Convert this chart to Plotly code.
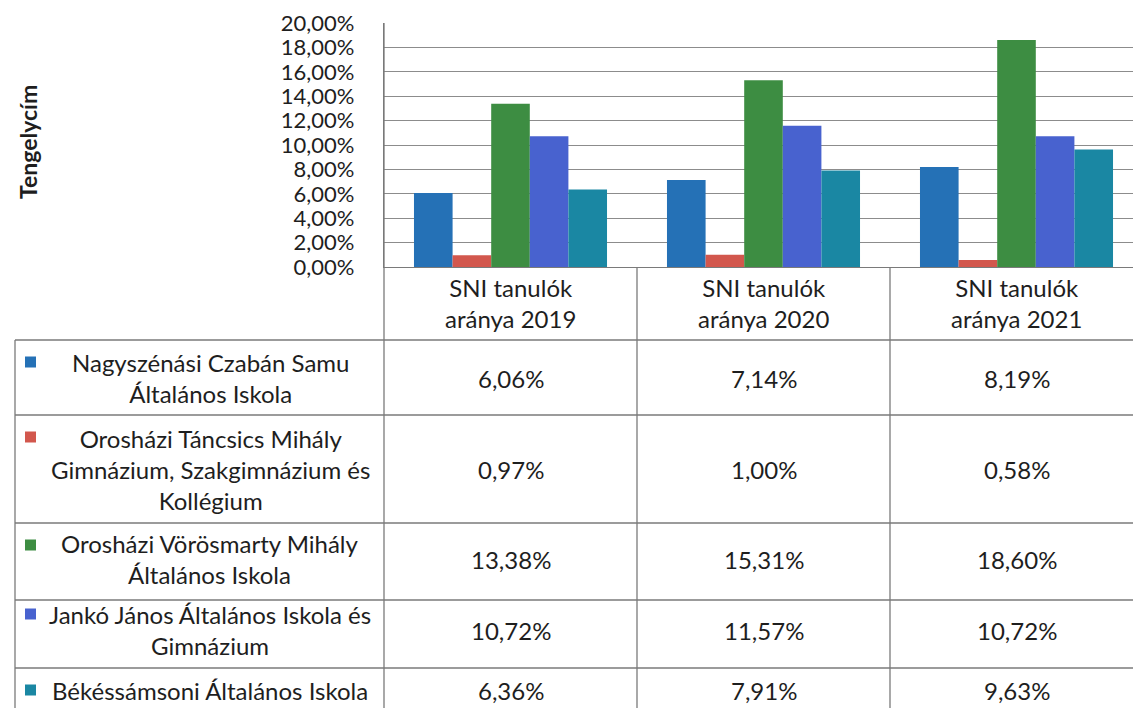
import plotly.graph_objects as go

# ---------------- data ----------------
categories = ["SNI tanulók aránya 2019", "SNI tanulók aránya 2020", "SNI tanulók aránya 2021"]
header_labels = ["SNI tanulók<br>aránya 2019", "SNI tanulók<br>aránya 2020", "SNI tanulók<br>aránya 2021"]
series_names = [
    "Nagyszénási Czabán Samu Általános Iskola",
    "Orosházi Táncsics Mihály Gimnázium, Szakgimnázium és Kollégium",
    "Orosházi Vörösmarty Mihály Általános Iskola",
    "Jankó János Általános Iskola és Gimnázium",
    "Békéssámsoni Általános Iskola",
]
series_labels = [
    "Nagyszénási Czabán Samu<br>Általános Iskola",
    "Orosházi Táncsics Mihály<br>Gimnázium, Szakgimnázium és<br>Kollégium",
    "Orosházi Vörösmarty Mihály<br>Általános Iskola",
    "Jankó János Általános Iskola és<br>Gimnázium",
    "Békéssámsoni Általános Iskola",
]
nagyszenasi = [6.06, 7.14, 8.19]
tancsics = [0.97, 1.00, 0.58]
vorosmarty = [13.38, 15.31, 18.60]
janko = [10.72, 11.57, 10.72]
bekessamsoni = [6.36, 7.91, 9.63]
series_values = [nagyszenasi, tancsics, vorosmarty, janko, bekessamsoni]
y_ticks = [0, 2, 4, 6, 8, 10, 12, 14, 16, 18, 20]

# ---------------- styling / layout constants ----------------
colors = ["#2571b6", "#d2574d", "#3d8d42", "#4862cf", "#1a87a3"]
W, H = 1133, 708
FONT = "Lato"
FS = 24
TXT = "#1e1e1e"
LINE = "#7a7a7a"

def px(x):
    return x / W

def py(y):
    return 1 - y / H

plot_left, plot_top, plot_bottom = 384, 23, 267
cat_w = 253
table_left = 15
header_bottom = 340
row_bounds = [340, 415, 523, 600, 668, 716]
label_centers_y = [378, 469, 559, 630, 690]
label_first_line_y = [362, 437, 545, 614, 690]

fig = go.Figure()
for name, vals, col in zip(series_names, series_values, colors):
    fig.add_trace(go.Bar(x=categories, y=vals, name=name, marker=dict(color=col, line=dict(width=0)),
                         showlegend=False))

x_range_right = -0.5 + (W - plot_left) / cat_w

shapes = []
# vertical table lines (column separators) from top of plot through the table
for i in range(len(categories) + 1):
    x = plot_left + cat_w * i
    y0 = plot_top if i == 0 else plot_bottom
    shapes.append(dict(type="line", xref="paper", yref="paper", x0=px(x), x1=px(x),
                       y0=py(y0), y1=py(H + 10), line=dict(color=LINE, width=1.3)))
# left table border
shapes.append(dict(type="line", xref="paper", yref="paper", x0=px(table_left), x1=px(table_left),
                   y0=py(header_bottom), y1=py(H + 10), line=dict(color=LINE, width=1.3)))
# horizontal row lines
for yb in row_bounds:
    shapes.append(dict(type="line", xref="paper", yref="paper", x0=px(table_left), x1=1.0,
                       y0=py(yb), y1=py(yb), line=dict(color=LINE, width=1.3)))
# legend keys
for col, yk in zip(colors, label_first_line_y):
    shapes.append(dict(type="rect", xref="paper", yref="paper", x0=px(25), x1=px(36),
                       y0=py(yk + 5.5), y1=py(yk - 5.5), fillcolor=col, line=dict(width=0)))

annotations = []
# axis title
annotations.append(dict(text="<b>Tengelycím</b>", xref="paper", yref="paper", x=px(28), y=py(142),
                        xanchor="center", yanchor="middle",
                        textangle=-90, showarrow=False, font=dict(family=FONT, size=23, color=TXT)))
# header cells
for cat, lab in zip(categories, header_labels):
    annotations.append(dict(text=lab, xref="x", yref="paper", x=cat, y=py(303), showarrow=False,
                            xanchor="center", yanchor="middle",
                            font=dict(family=FONT, size=FS, color=TXT)))
# row labels and values
for r, (lab, vals) in enumerate(zip(series_labels, series_values)):
    annotations.append(dict(text=lab, xref="paper", yref="paper", x=px(210), y=py(label_centers_y[r]),
                            xanchor="center", yanchor="middle",
                            showarrow=False, align="center", font=dict(family=FONT, size=FS, color=TXT)))
    for cat, v in zip(categories, vals):
        annotations.append(dict(text=f"{v:.2f}".replace(".", ",") + "%", xref="x", yref="paper", x=cat,
                                y=py(label_centers_y[r]), showarrow=False,
                                xanchor="center", yanchor="middle",
                                font=dict(family=FONT, size=FS, color=TXT)))

fig.update_layout(
    width=W, height=H,
    margin=dict(l=0, r=0, t=0, b=0, pad=0, autoexpand=False),
    paper_bgcolor="white", plot_bgcolor="white",
    separators=",.",
    bargap=0.237, bargroupgap=0,
    barmode="group",
    font=dict(family=FONT, color=TXT),
    xaxis=dict(domain=[px(plot_left), 1.0], range=[-0.5, x_range_right], type="category",
               automargin=False,
               showticklabels=False, showgrid=False, showline=True, linecolor=LINE, linewidth=1.3,
               ticks="", fixedrange=True),
    yaxis=dict(domain=[py(plot_bottom), py(plot_top)], range=[0, 20], tickvals=y_ticks,
               automargin=False,
               ticktext=[f"{t:.2f}".replace(".", ",") + "%" for t in y_ticks],
               showgrid=True, gridcolor="#8c8c8c", gridwidth=1.2, zeroline=False,
               showline=True, linecolor=LINE, linewidth=1.3, ticks="", ticklabelstandoff=24,
               tickfont=dict(family=FONT, size=22, color=TXT)),
    shapes=shapes,
    annotations=annotations,
)

fig.write_html(
    "out.html",
    config={"displayModeBar": False},
    post_script="document.body.style.margin='0';document.body.style.overflow='hidden';",
)
